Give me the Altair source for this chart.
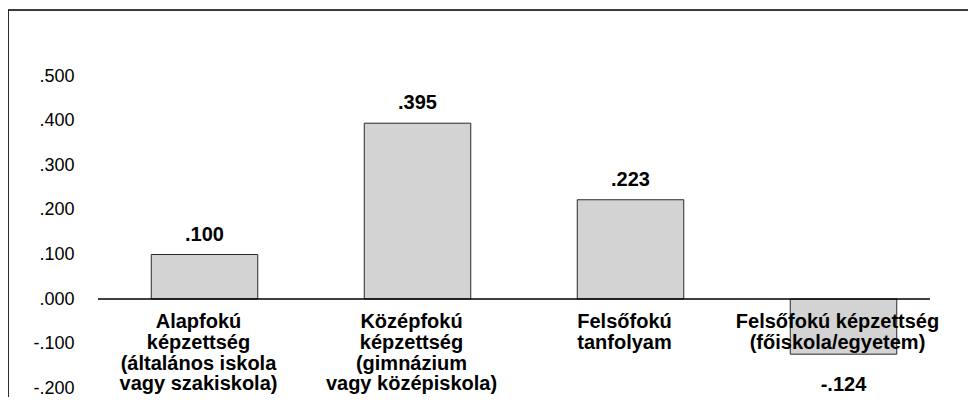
import altair as alt
import pandas as pd

# ---- data ----
cat_lines = [
    ["Alapfokú", "képzettség", "(általános iskola", "vagy szakiskola)"],
    ["Középfokú", "képzettség", "(gimnázium", "vagy középiskola)"],
    ["Felsőfokú", "tanfolyam"],
    ["Felsőfokú képzettség", "(főiskola/egyetem)"],
]
values = [0.100, 0.395, 0.223, -0.124]
value_labels = [".100", ".395", ".223", "-.124"]
y_ticks = [-0.2, -0.1, 0.0, 0.1, 0.2, 0.3, 0.4, 0.5]

cats = ["c%d" % i for i in range(len(values))]
df = pd.DataFrame({
    "cat": cats,
    "value": values,
    "vlabel": value_labels,
    "clabel": ["\n".join(l) for l in cat_lines],
})

W, H = 960, 387
FONT = "Liberation Sans"

xs = alt.X("cat:N", sort=cats, axis=None,
           scale=alt.Scale(range=[90, 942], paddingInner=0.5, paddingOuter=0.25))
yscale = alt.Scale(domain=[-0.2202, 0.6494], nice=False, zero=False)

base = alt.Chart(df)

bars = base.mark_bar(fill="#d3d3d3", stroke="#2a2a2a", strokeWidth=1).encode(
    x=xs,
    y=alt.Y("value:Q", scale=yscale,
            axis=alt.Axis(values=y_ticks,
                          labelExpr="replace(replace(format(datum.value, '.3f'), '\u2212', '-'), '0.', '.')",
                          domain=False, ticks=False, grid=False, title=None,
                          offset=-70, labelPadding=4, labelFontSize=18,
                          labelFont=FONT, labelColor="black", labelOverlap=False)),
    y2=alt.Y2(datum=0),
)

zero_line = alt.Chart(pd.DataFrame({"z": [0]})).mark_rule(
    color="black", strokeWidth=1.3).encode(
    y=alt.Y("z:Q", scale=yscale), x=alt.value(90), x2=alt.value(922))

pos_labels = base.transform_filter("datum.value >= 0").mark_text(
    font=FONT, fontWeight="bold", fontSize=20, baseline="bottom", dy=-10, color="black"
).encode(x=xs, y=alt.Y("value:Q", scale=yscale), text="vlabel:N")

neg_labels = base.transform_filter("datum.value < 0").mark_text(
    font=FONT, fontWeight="bold", fontSize=20, baseline="top", dy=21, color="black"
).encode(x=xs, y=alt.Y("value:Q", scale=yscale), text="vlabel:N")

cat_labels = base.mark_text(
    font=FONT, fontWeight="bold", fontSize=20, baseline="top", dy=13, dx=-6,
    lineBreak="\n", lineHeight=20.8, color="black", align="center"
).encode(x=xs, y=alt.Y(datum=0, scale=yscale), text="clabel:N")

frame_df = pd.DataFrame({"f": [0]})
frame_left = alt.Chart(frame_df).mark_rule(color="black", strokeWidth=1.6).encode(
    x=alt.value(0), y=alt.value(0), y2=alt.value(H))
frame_top = alt.Chart(frame_df).mark_rule(color="black", strokeWidth=1.6).encode(
    x=alt.value(0), x2=alt.value(W), y=alt.value(0))

chart = alt.layer(
    bars, zero_line, pos_labels, neg_labels, cat_labels, frame_left, frame_top
).properties(
    width=W, height=H,
    autosize=alt.AutoSizeParams(type="none"),
    padding={"left": 0, "top": 2, "right": 0, "bottom": 0},
).configure_view(stroke=None).configure(background="white")

chart.save("out.html", embed_options={"renderer": "svg", "actions": False})
